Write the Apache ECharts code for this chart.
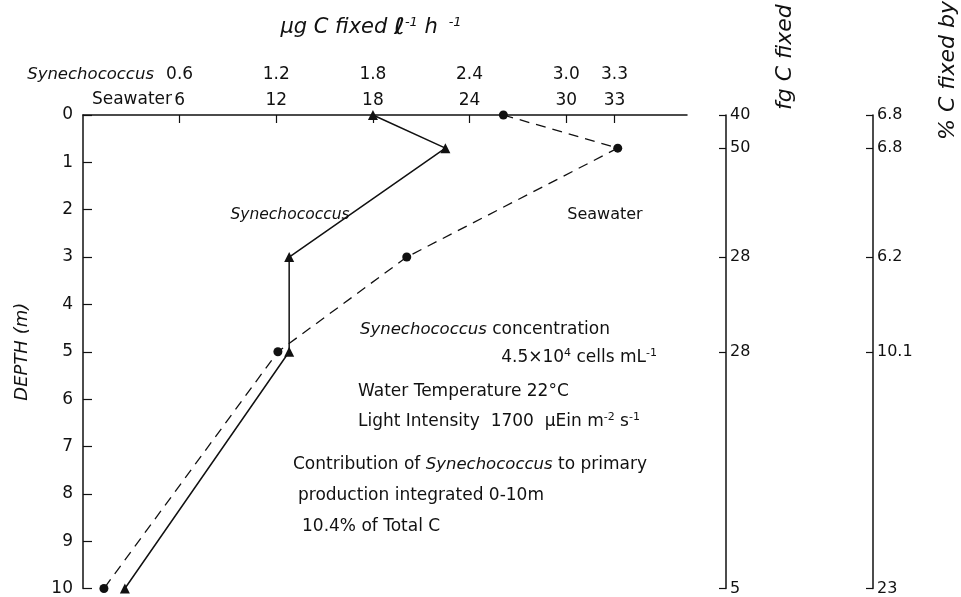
<!DOCTYPE html>
<html>
<head>
<meta charset="utf-8">
<script src="https://cdn.jsdelivr.net/npm/echarts@6/dist/echarts.min.js"></script>
<style>
  html, body { margin: 0; padding: 0; background: #fff; }
  #chart { width: 961px; height: 597px; }
</style>
</head>
<body>
<div id="chart"></div>
<script>
// Sampling depths (m)
const depths = [0, 0.7, 3, 5, 10];
// Carbon fixation rates, µg C fixed per litre per hour
const synechococcus = [1.80, 2.25, 1.28, 1.28, 0.26];
const seawater = [26.1, 33.2, 20.1, 12.1, 1.3];
// Right-hand scales, one value per depth
const fgCFixed = [40, 50, 28, 28, 5];
const pctCFixed = [6.8, 6.8, 6.2, 10.1, 23];
// Top axis tick labels
const seawaterTicks = [6, 12, 18, 24, 30, 33];
const synechococcusTicks = [0.6, 1.2, 1.8, 2.4, 3.0, 3.3];

const FONT = 'DejaVu Sans';
const INK = '#111';

const chart = echarts.init(document.getElementById('chart'), null, { renderer: 'canvas' });

function pairs(xs) { return xs.map((x, i) => [x, depths[i]]); }
function lookup(arr) {
  return v => {
    const i = depths.findIndex(d => Math.abs(d - v) < 1e-6);
    return i >= 0 ? String(arr[i]) : '';
  };
}

const baseText = { fontFamily: FONT, fontSize: 16, color: INK };
const lineStyle = { color: INK, width: 1.5 };
const tickStyle = { color: INK, width: 1.2 };

const regular = '17px "DejaVu Sans"';
const italic = 'italic 16.5px "DejaVu Sans"';
const richItalic = { i: { fontFamily: FONT, fontSize: 16.5, fontStyle: 'italic', fill: INK } };
const richSup = { s: { fontFamily: FONT, fontSize: 11, fill: INK, padding: [0, 0, 9, 0] } };

const option = {
  animation: false,
  backgroundColor: '#fff',
  grid: { left: 83, top: 115, width: 604, height: 474 },
  xAxis: [
    {
      type: 'value', position: 'top', min: 0, max: 37.5,
      axisLine: { show: true, onZero: false, lineStyle },
      axisTick: { show: true, inside: true, length: 8, customValues: seawaterTicks, lineStyle: tickStyle },
      axisLabel: Object.assign({ customValues: seawaterTicks, margin: 6 }, baseText, { fontSize: 17 }),
      splitLine: { show: false }
    },
    {
      type: 'value', position: 'top', offset: 26, min: 0, max: 3.75,
      axisLine: { show: false, onZero: false },
      axisTick: { show: false },
      axisLabel: Object.assign({ customValues: synechococcusTicks, margin: 6,
        formatter: v => v.toFixed(1) }, baseText, { fontSize: 17 }),
      splitLine: { show: false }
    }
  ],
  yAxis: [
    {
      type: 'value', inverse: true, min: 0, max: 10, interval: 1,
      name: 'DEPTH (m)', nameLocation: 'middle', nameGap: 52,
      nameTextStyle: { fontFamily: FONT, fontSize: 18, fontStyle: 'italic', color: INK },
      axisLine: { show: true, onZero: false, lineStyle },
      axisTick: { show: true, inside: true, length: 9, lineStyle: tickStyle },
      axisLabel: Object.assign({ margin: 10 }, baseText, { fontSize: 17 }),
      splitLine: { show: false }
    },
    {
      type: 'value', inverse: true, min: 0, max: 10, position: 'right', offset: 39,
      axisLine: { show: true, onZero: false, lineStyle },
      axisTick: { show: true, inside: true, length: 7, customValues: depths, lineStyle: tickStyle },
      axisLabel: Object.assign({ customValues: depths, margin: 4, formatter: lookup(fgCFixed) }, baseText),
      splitLine: { show: false }
    },
    {
      type: 'value', inverse: true, min: 0, max: 10, position: 'right', offset: 186,
      axisLine: { show: true, onZero: false, lineStyle },
      axisTick: { show: true, inside: true, length: 7, customValues: depths, lineStyle: tickStyle },
      axisLabel: Object.assign({ customValues: depths, margin: 4, formatter: lookup(pctCFixed) }, baseText),
      splitLine: { show: false }
    }
  ],
  series: [
    {
      name: 'Seawater', type: 'line', xAxisIndex: 0, yAxisIndex: 0,
      data: pairs(seawater),
      symbol: 'circle', symbolSize: 9,
      itemStyle: { color: INK },
      lineStyle: { color: INK, width: 1.3, type: [10, 7] }
    },
    {
      name: 'Synechococcus', type: 'line', xAxisIndex: 1, yAxisIndex: 0,
      data: pairs(synechococcus),
      symbol: 'triangle', symbolSize: 10,
      itemStyle: { color: INK },
      lineStyle: { color: INK, width: 1.5 }
    }
  ],
  graphic: [
    { type: 'text', x: 371, y: 28, style: { text: '{i|µg C fixed }{l|ℓ}{s|-1}{i| h }{s| -1}', align: 'center', verticalAlign: 'middle',
      rich: { i: { fontFamily: FONT, fontSize: 21, fontStyle: 'italic', fill: INK },
              l: { fontFamily: FONT, fontSize: 23, fontStyle: 'italic', fontWeight: 'bold', fill: INK },
              s: { fontFamily: FONT, fontSize: 13, fontStyle: 'italic', fill: INK, padding: [0, 0, 10, 0] } } } },
    { type: 'text', x: 154, y: 75, style: { text: 'Synechococcus', align: 'right', verticalAlign: 'middle', font: italic, fill: INK } },
    { type: 'text', x: 172, y: 100, style: { text: 'Seawater', align: 'right', verticalAlign: 'middle', font: regular, fill: INK } },
    { type: 'text', x: 290, y: 215, style: { text: 'Synechococcus', align: 'center', verticalAlign: 'middle', font: 'italic 15.5px "DejaVu Sans"', fill: INK } },
    { type: 'text', x: 605, y: 215, style: { text: 'Seawater', align: 'center', verticalAlign: 'middle', font: '16px "DejaVu Sans"', fill: INK } },
    { type: 'text', x: 360, y: 330, style: { text: '{i|Synechococcus} concentration', verticalAlign: 'middle',
      rich: richItalic, font: regular, fill: INK } },
    { type: 'text', x: 657, y: 358, style: { text: '4.5×10{s|4} cells mL{s|-1}', align: 'right', verticalAlign: 'middle',
      rich: richSup, font: regular, fill: INK } },
    { type: 'text', x: 358, y: 392, style: { text: 'Water Temperature 22°C', verticalAlign: 'middle', font: regular, fill: INK } },
    { type: 'text', x: 358, y: 422, style: { text: 'Light Intensity  1700  µEin m{s|-2} s{s|-1}', verticalAlign: 'middle',
      rich: richSup, font: regular, fill: INK } },
    { type: 'text', x: 293, y: 465, style: { text: 'Contribution of {i|Synechococcus} to primary', verticalAlign: 'middle',
      rich: richItalic, font: regular, fill: INK } },
    { type: 'text', x: 298, y: 496, style: { text: 'production integrated 0-10m', verticalAlign: 'middle', font: regular, fill: INK } },
    { type: 'text', x: 302, y: 527, style: { text: '10.4% of Total C', verticalAlign: 'middle', font: regular, fill: INK } },
    { type: 'text', x: 785, y: 110, rotation: Math.PI / 2, style: { text: 'fg C fixed', align: 'left', verticalAlign: 'middle', font: 'italic 22px "DejaVu Sans"', fill: INK } },
    { type: 'text', x: 948, y: 140, rotation: Math.PI / 2, style: { text: '% C fixed by', align: 'left', verticalAlign: 'middle', font: 'italic 22px "DejaVu Sans"', fill: INK } }
  ]
};

chart.setOption(option);
</script>
</body>
</html>
